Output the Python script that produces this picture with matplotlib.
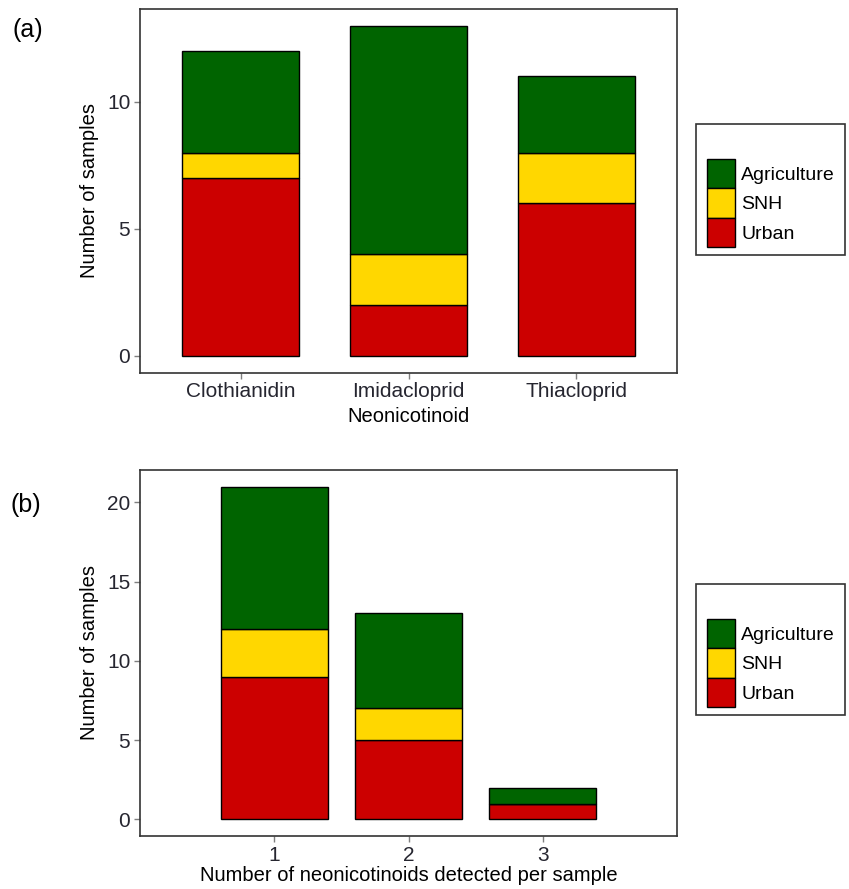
import numpy as np
import matplotlib.pyplot as plt
from matplotlib.patches import Rectangle

plt.rcParams['font.family'] = ['Liberation Sans', 'DejaVu Sans']

# Panel (a): samples per neonicotinoid, split by land use
compounds = ['Clothianidin', 'Imidacloprid', 'Thiacloprid']
urban_a = [7, 2, 6]
snh_a = [1, 2, 2]
agri_a = [4, 9, 3]

# Panel (b): samples by number of neonicotinoids detected
n_detected = [1, 2, 3]
urban_b = [9, 5, 1]
snh_b = [3, 2, 0]
agri_b = [9, 6, 1]

land_use = ['Agriculture', 'SNH', 'Urban']
colours = {'Agriculture': '#006400', 'SNH': '#FFD700', 'Urban': '#CC0000'}

W, H = 849, 889
fig = plt.figure(figsize=(W / 100, H / 100), dpi=100)
FS_TICK = 15
FS_LAB = 14.5
FS_LEG = 14
TICK_COL = '#262630'


def px_axes(left, top, right, bottom):
    return fig.add_axes([left / W, 1 - bottom / H, (right - left) / W, (bottom - top) / H])


def stacked(ax, x, urban, snh, agri, width):
    urban = np.array(urban)
    snh = np.array(snh)
    agri = np.array(agri)
    kw = dict(width=width, edgecolor='black', linewidth=1.0)
    hu = ax.bar(x, urban, color=colours['Urban'], **kw)
    hs = ax.bar(x, snh, bottom=urban, color=colours['SNH'], **kw)
    ha = ax.bar(x, agri, bottom=urban + snh, color=colours['Agriculture'], **kw)
    return [ha, hs, hu]


def style(ax):
    for s in ax.spines.values():
        s.set_color('#333333')
        s.set_linewidth(1.2)
    ax.tick_params(axis='both', colors='#7f7f7f', length=4, width=1,
                   labelsize=FS_TICK, labelcolor=TICK_COL, pad=3)


def legend_box(handles, key_top):
    # keys start at x=707, box drawn separately around them
    x0, y0 = 707, key_top
    fig.legend(handles, land_use, loc='upper left',
               bbox_to_anchor=(x0 / W, 1 - y0 / H), frameon=False,
               borderpad=0, borderaxespad=0, labelspacing=0,
               handlelength=1.45, handleheight=1.95, handletextpad=0.3,
               fontsize=FS_LEG)
    fig.patches.append(Rectangle((696 / W, 1 - (key_top + 96) / H), 149 / W, 131 / H,
                                 transform=fig.transFigure, fill=False,
                                 edgecolor='#333333', linewidth=1.2))


# (a)
ax1 = px_axes(140, 9, 677, 372.5)
xa = np.arange(1, 4)
ha = stacked(ax1, xa, urban_a, snh_a, agri_a, 0.7)
ax1.set_xlim(0.4, 3.6)
ax1.set_ylim(-0.65, 13.65)
ax1.set_xticks(xa)
ax1.set_xticklabels(compounds)
ax1.set_yticks([0, 5, 10])
ax1.set_xlabel('Neonicotinoid', fontsize=FS_LAB, labelpad=4)
ax1.set_ylabel('Number of samples', fontsize=FS_LAB, labelpad=6)
style(ax1)
legend_box(ha, 159)
fig.text(12 / W, 1 - 30 / H, '(a)', fontsize=18, va='center', ha='left')

# (b)
ax2 = px_axes(140, 470, 677, 836)
hb = stacked(ax2, n_detected, urban_b, snh_b, agri_b, 0.8)
ax2.set_xlim(0, 4)
ax2.set_ylim(-1.05, 22.05)
ax2.set_xticks(n_detected)
ax2.set_yticks([0, 5, 10, 15, 20])
ax2.set_xlabel('Number of neonicotinoids detected per sample', fontsize=FS_LAB, labelpad=1)
ax2.set_ylabel('Number of samples', fontsize=FS_LAB, labelpad=6)
style(ax2)
legend_box(hb, 619)
fig.text(10 / W, 1 - 505 / H, '(b)', fontsize=18, va='center', ha='left')

fig.savefig('out.png', dpi=100)
